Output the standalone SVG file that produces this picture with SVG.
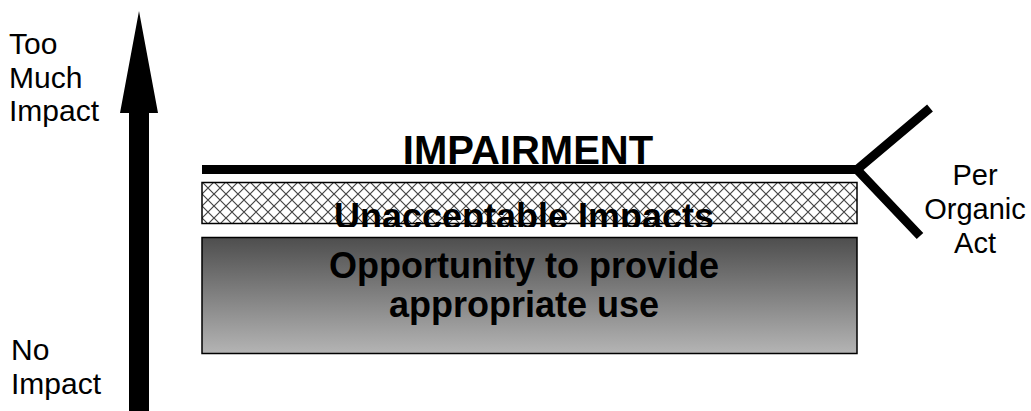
<svg xmlns="http://www.w3.org/2000/svg" width="1031" height="411" viewBox="0 0 1031 411">
  <style>
    .lbl { font-family: "Liberation Sans", Arial, sans-serif; font-size: 29px; fill: #000; }
    .side { font-size: 30px; }
    .big { font-family: "Liberation Sans", Arial, sans-serif; font-weight: bold; font-size: 36px; fill: #000; text-anchor: middle; }
    .box { stroke: #000; stroke-width: 1.5; }
    .thick { fill: none; stroke: #000; stroke-width: 9; }
  </style>
  <defs>
    <pattern id="hatch" patternUnits="userSpaceOnUse" width="12" height="12" x="202" y="182">
      <rect width="12" height="12" fill="#fff"/>
      <path d="M0,0 L12,12 M12,0 L0,12" stroke="#444" stroke-width="1.2"/>
    </pattern>
    <linearGradient id="grayGrad" x1="0" y1="0" x2="0" y2="1">
      <stop offset="0" stop-color="#4e4e4e"/>
      <stop offset="1" stop-color="#b4b4b4"/>
    </linearGradient>
    <clipPath id="hatchClip">
      <rect x="202" y="182" width="655" height="45"/>
    </clipPath>
  </defs>

  <rect width="1031" height="411" fill="#fff"/>

  <g id="connectors">
    <polygon id="impact-axis" points="139,11 158,113 149,113 149,411 129,411 129,113 120,113" fill="#000"/>
  </g>

  <g id="axis-top-label">
    <text class="lbl side" x="9" y="54">Too</text>
    <text class="lbl side" x="9" y="87.5">Much</text>
    <text class="lbl side" x="9" y="121">Impact</text>
  </g>

  <g id="axis-bottom-label">
    <text class="lbl side" x="11" y="360">No</text>
    <text class="lbl side" x="11" y="394">Impact</text>
  </g>

  <g id="impairment">
    <text class="big" x="528" y="164" style="font-size:40px">IMPAIRMENT</text>
    <line class="thick" x1="202" y1="169.5" x2="858" y2="169.5"/>
    <path class="thick" d="M930,108 L857,169.5 L920,236" stroke-linejoin="miter"/>
  </g>

  <g id="per-organic-act">
    <text class="lbl" x="975" y="185" text-anchor="middle">Per</text>
    <text class="lbl" x="975" y="219" text-anchor="middle">Organic</text>
    <text class="lbl" x="975" y="253" text-anchor="middle">Act</text>
  </g>

  <g id="unacceptable-impacts">
    <rect class="box" x="202" y="182.5" width="655" height="41" fill="url(#hatch)"/>
    <text class="big" x="524" y="229" clip-path="url(#hatchClip)">Unacceptable Impacts</text>
  </g>

  <g id="appropriate-use">
    <rect class="box" x="202" y="237.5" width="655" height="116" fill="url(#grayGrad)"/>
    <text class="big" x="524" y="278">Opportunity to provide</text>
    <text class="big" x="524" y="317">appropriate use</text>
  </g>
</svg>
